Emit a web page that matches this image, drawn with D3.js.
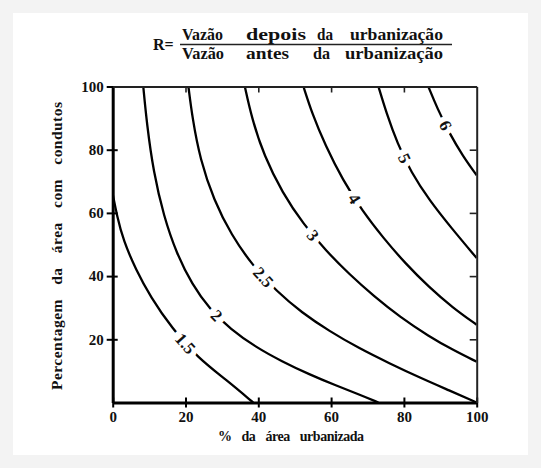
<!DOCTYPE html>
<html>
<head>
<meta charset="utf-8">
<script src="https://cdn.jsdelivr.net/npm/d3@7"></script>
<style>
  body { margin: 0; background: #f3f3f3; }
  svg { display: block; }
</style>
</head>
<body>
<svg id="chart"></svg>
<script>
// tick values on both axes
const xTicks = [0, 20, 40, 60, 80, 100];
const yTicks = [20, 40, 60, 80, 100];

// contour levels (R) and their lines as [x %, y %]
const levels = [1.5, 2, 2.5, 3, 4, 5, 6];
const curve15 = [[0, 66], [1.2, 59], [2.9, 51.3], [6.4, 42], [10.4, 33.4], [16.2, 23.6], [23.5, 14], [31.3, 7.1], [38.6, 0]];
const curve2 = [[8.4, 100], [9.4, 88], [11.2, 73], [14, 59], [17.6, 47], [21.8, 37.4], [26.6, 29.6], [32.4, 23.2], [39.2, 17.6], [46.5, 13], [54, 8.9], [61.5, 5.3], [67.6, 2.6], [73, 0]];
const curve25 = [[20.8, 100], [21.9, 90], [24, 77], [27.8, 64], [32.6, 53], [38.4, 43.4], [45, 35.2], [52, 28.4], [59.5, 22.6], [67.6, 17.2], [76, 12.4], [84.5, 7.8], [92.5, 3.8], [100, 0]];
const curve3 = [[36.3, 100], [38.2, 90], [41.6, 78], [46.6, 66.4], [52.4, 56.4], [58.6, 48], [65, 40.6], [71.8, 33.6], [79, 27], [86.8, 21], [93.8, 16.4], [100, 12.9]];
const curve4 = [[52.4, 100], [54.8, 91.4], [58.4, 81.4], [63.2, 70.4], [68.6, 60.6], [74.4, 52], [80.4, 44], [86.8, 36.6], [93.4, 30], [100, 24.6]];
const curve5 = [[73, 100], [75.2, 91.6], [78.2, 82], [82, 72.8], [87, 64], [93.2, 55], [100, 45.7]];
const curve6 = [[86.7, 100], [89.2, 93], [92.6, 85], [96.2, 78], [100, 71.9]];
const curves = [curve15, curve2, curve25, curve3, curve4, curve5, curve6];
// where each level label sits on its line, [x %, y %]
const labelSpots = [[20.1, 18.8], [28.4, 27.2], [41.9, 40.3], [54.5, 52.3], [66.2, 64.4], [79.1, 76.6], [91.3, 87.7]];

const numeratorWords = ['Vazão', 'depois', 'da', 'urbanização'];
const denominatorWords = ['Vazão', 'antes', 'da', 'urbanização'];
const xTitle = '% da área urbanizada';
const yTitle = 'Percentagem da área com condutos';

const serif = '"Liberation Serif", "Times New Roman", "DejaVu Serif", serif';
const W = 541, H = 468;
const margin = { top: 86.5, right: 64.3, bottom: 65.5, left: 112.7 };
const width = W - margin.left - margin.right;
const height = H - margin.top - margin.bottom;

const svg = d3.select('#chart').attr('width', W).attr('height', H);

// shared look for every text in the figure
function serifText(sel, size, wordSpacing) {
    return sel.style('font-family', serif)
        .style('font-weight', 'bold')
        .style('font-size', size + 'px')
        .style('word-spacing', (wordSpacing || 0) + 'px')
        .attr('fill', '#111');
}

// one spaced-out title line, each word fitted into its own slot [left, right]
function wordLine(sel, words, slots, y) {
    sel.attr('y', y)
        .selectAll('tspan')
        .data(words)
        .join('tspan')
        .attr('x', (d, i) => slots[i][0])
        .attr('textLength', (d, i) => slots[i][1] - slots[i][0])
        .attr('lengthAdjust', 'spacingAndGlyphs')
        .text(d => d);
}

// white page on a light grey surround
svg.append('rect')
    .attr('x', 13).attr('y', 13)
    .attr('width', W - 26).attr('height', H - 26)
    .attr('fill', '#fff');

// formula title
const title = svg.append('g');
serifText(title.append('text'), 16)
    .attr('x', 153).attr('y', 50)
    .text('R=');
wordLine(serifText(title.append('text'), 16), numeratorWords,
    [[182, 223], [246, 306], [317, 333], [350, 443]], 40);
title.append('line')
    .attr('x1', 180).attr('x2', 452)
    .attr('y1', 44.5).attr('y2', 44.5)
    .attr('stroke', '#222').attr('stroke-width', 1.3);
wordLine(serifText(title.append('text'), 16), denominatorWords,
    [[182, 224], [246, 289], [313, 330], [345, 443]], 59);

const chart = svg.append('g')
    .attr('transform', `translate(${margin.left},${margin.top})`);

const xScale = d3.scaleLinear().domain([0, 100]).range([0, width]);
const yScale = d3.scaleLinear().domain([0, 100]).range([height, 0]);

chart.append('clipPath').attr('id', 'plot-clip')
    .append('rect').attr('width', width).attr('height', height);

// contour lines
const line = d3.line()
    .x(d => xScale(d[0]))
    .y(d => yScale(d[1]))
    .curve(d3.curveBasis);

const paths = chart.append('g')
    .attr('clip-path', 'url(#plot-clip)')
    .selectAll('path')
    .data(curves)
    .join('path')
    .attr('d', line)
    .attr('fill', 'none')
    .attr('stroke', '#000')
    .attr('stroke-width', 2.3);

// level labels: placed on the line nearest to the spot, turned along it
const labelG = chart.append('g');
paths.each(function (d, i) {
    const node = this;
    const total = node.getTotalLength();
    const tx = xScale(labelSpots[i][0]), ty = yScale(labelSpots[i][1]);
    let best = 0, bestDist = Infinity;
    for (let s = 0; s <= total; s += 0.5) {
        const p = node.getPointAtLength(s);
        const dist = (p.x - tx) ** 2 + (p.y - ty) ** 2;
        if (dist < bestDist) { bestDist = dist; best = s; }
    }
    const p = node.getPointAtLength(best);
    const a = node.getPointAtLength(Math.max(0, best - 4));
    const b = node.getPointAtLength(Math.min(total, best + 4));
    const angle = Math.atan2(b.y - a.y, b.x - a.x) * 180 / Math.PI;
    serifText(labelG.append('text'), 17)
        .attr('transform', `translate(${p.x},${p.y}) rotate(${angle})`)
        .attr('text-anchor', 'middle')
        .attr('dy', '0.35em')
        .attr('stroke', '#fff').attr('stroke-width', 11)
        .attr('paint-order', 'stroke')
        .text(levels[i]);
});

// axes
const xAxis = d3.axisBottom(xScale).tickValues(xTicks).tickSize(5).tickSizeOuter(0).tickPadding(4);
const yAxis = d3.axisLeft(yScale).tickValues(yTicks).tickSize(6).tickSizeOuter(0).tickPadding(3);
const topAxis = d3.axisTop(xScale).tickValues([20, 40, 60, 80]).tickSize(-6).tickSizeOuter(0).tickFormat('');
const rightAxis = d3.axisRight(yScale).tickValues([20, 40, 60, 80]).tickSize(-7).tickSizeOuter(0).tickFormat('');

const xAxisG = chart.append('g').attr('transform', `translate(0,${height})`).call(xAxis);
const yAxisG = chart.append('g').call(yAxis);
const topG = chart.append('g').call(topAxis);
const rightG = chart.append('g').attr('transform', `translate(${width},0)`).call(rightAxis);

xAxisG.selectAll('.tick line').attr('y1', -5);
yAxisG.selectAll('.tick line').attr('x1', 5);

[xAxisG, yAxisG].forEach(g => {
    g.select('.domain').attr('stroke', '#000').attr('stroke-width', 3);
    g.selectAll('.tick line').attr('stroke', '#000').attr('stroke-width', 2);
    serifText(g.selectAll('.tick text'), 15);
});
[topG, rightG].forEach(g => {
    g.select('.domain').attr('stroke', '#222').attr('stroke-width', 2);
    g.selectAll('.tick line').attr('stroke', '#222').attr('stroke-width', 1.6);
});

// axis titles
serifText(chart.append('text'), 14, 7)
    .attr('x', 105.3).attr('y', height + 38)
    .attr('textLength', 146).attr('lengthAdjust', 'spacing')
    .text(xTitle);

serifText(chart.append('text'), 15.5, 10)
    .attr('transform', 'rotate(-90)')
    .attr('x', -(390 - margin.top)).attr('y', -51)
    .attr('textLength', 288).attr('lengthAdjust', 'spacing')
    .text(yTitle);
</script>
</body>
</html>
